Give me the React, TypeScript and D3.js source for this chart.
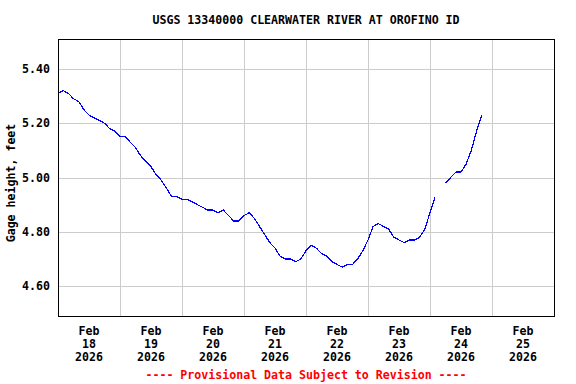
import React from "react";
import * as d3 from "d3";

// gage height readings, every 2 hours from Feb 18 00:00 (null = missing)
const startDate = new Date(2026, 1, 18);
const endDate = new Date(2026, 1, 26);
const stepHours = 2;
const gageFeet: (number | null)[] = [
  5.31, 5.32, 5.31, 5.29, 5.28, 5.25, 5.23, 5.22, 5.21, 5.20, 5.18, 5.17,
  5.15, 5.15, 5.13, 5.11, 5.08, 5.06, 5.04, 5.01, 4.99, 4.96, 4.93, 4.93,
  4.92, 4.92, 4.91, 4.90, 4.89, 4.88, 4.88, 4.87, 4.88, 4.86, 4.84, 4.84,
  4.86, 4.87, 4.85, 4.82, 4.79, 4.76, 4.74, 4.71, 4.70, 4.70, 4.69, 4.70,
  4.73, 4.75, 4.74, 4.72, 4.71, 4.69, 4.68, 4.67, 4.68, 4.68, 4.70, 4.73,
  4.77, 4.82, 4.83, 4.82, 4.81, 4.78, 4.77, 4.76, 4.77, 4.77, 4.78, 4.81,
  4.87, 4.93, null, 4.98, 5.00, 5.02, 5.02, 5.05, 5.10, 5.17, 5.23,
];
const yTicks = [4.6, 4.8, 5.0, 5.2, 5.4];
const dayLabels = ["18", "19", "20", "21", "22", "23", "24", "25"];
const monthLabel = "Feb";
const yearLabel = "2026";

const title = "USGS 13340000 CLEARWATER RIVER AT OROFINO ID";
const yTitle = "Gage height, feet";
const footer = "---- Provisional Data Subject to Revision ----";

const W = 576, H = 384;
const m = { left: 58, right: 22, top: 39, bottom: 68 };
const FONT = "'DejaVu Sans Mono', monospace";

const App = () => {
  const svgRef = React.useRef<SVGSVGElement>(null);

  React.useEffect(() => {
    const svg = d3.select(svgRef.current);
    svg.selectAll("*").remove();

    const x = d3.scaleTime().domain([startDate, endDate]).range([m.left, W - m.right]);
    const y = d3.scaleLinear().domain([4.49, 5.51]).range([H - m.bottom, m.top]);

    const data = gageFeet.map((v, i) => ({
      t: d3.timeHour.offset(startDate, i * stepHours),
      v,
    }));
    const days = d3.timeDay.range(startDate, endDate);

    svg.append("rect").attr("width", W).attr("height", H).attr("fill", "#fff");

    // grid
    const grid = svg.append("g").attr("stroke", "#cccccc").attr("shape-rendering", "crispEdges");
    grid.selectAll("line.h")
      .data(yTicks)
      .join("line")
      .attr("x1", m.left).attr("x2", W - m.right)
      .attr("y1", d => Math.round(y(d)) + 0.5).attr("y2", d => Math.round(y(d)) + 0.5);
    grid.selectAll("line.v")
      .data(days.slice(1))
      .join("line")
      .attr("y1", m.top).attr("y2", H - m.bottom)
      .attr("x1", d => Math.round(x(d)) + 0.5).attr("x2", d => Math.round(x(d)) + 0.5);

    // series
    const line = d3.line<{ t: Date; v: number | null }>()
      .defined(d => d.v !== null)
      .x(d => x(d.t))
      .y(d => y(d.v as number));
    svg.append("path")
      .datum(data)
      .attr("d", line)
      .attr("fill", "none")
      .attr("stroke", "#0000ff")
      .attr("stroke-width", 1.2)
      .attr("shape-rendering", "crispEdges");

    // frame
    svg.append("rect")
      .attr("x", m.left + 0.5).attr("y", m.top + 0.5)
      .attr("width", W - m.left - m.right).attr("height", H - m.top - m.bottom)
      .attr("fill", "none").attr("stroke", "#000").attr("shape-rendering", "crispEdges");

    const txt = svg.append("g")
      .attr("font-family", FONT)
      .attr("font-weight", "bold")
      .attr("font-size", 11.6)
      .attr("fill", "#000");

    // y tick labels
    txt.selectAll("text.yt")
      .data(yTicks)
      .join("text")
      .attr("x", 50)
      .attr("y", d => y(d) + 4)
      .attr("text-anchor", "end")
      .text(d => d3.format(".2f")(d));

    // x labels at noon of each day
    const xl = txt.selectAll("g.xl")
      .data(days)
      .join("g")
      .attr("transform", d => `translate(${x(d3.timeHour.offset(d, 12))},0)`)
      .attr("text-anchor", "middle");
    xl.append("text").attr("y", 335).text(monthLabel);
    xl.append("text").attr("y", 348).text((d, i) => dayLabels[i]);
    xl.append("text").attr("y", 361).text(yearLabel);

    txt.append("text")
      .attr("x", (m.left + W - m.right) / 2)
      .attr("y", 24)
      .attr("text-anchor", "middle")
      .text(title);

    txt.append("text")
      .attr("transform", `translate(15,183) rotate(-90)`)
      .attr("text-anchor", "middle")
      .text(yTitle);

    txt.append("text")
      .attr("x", (m.left + W - m.right) / 2)
      .attr("y", 379)
      .attr("text-anchor", "middle")
      .attr("fill", "#ff0000")
      .text(footer);
  }, []);

  return (
    <svg ref={svgRef} width={W} height={H}
      style={{ position: "absolute", left: 0, top: 0, display: "block" }} />
  );
};

export default App;
